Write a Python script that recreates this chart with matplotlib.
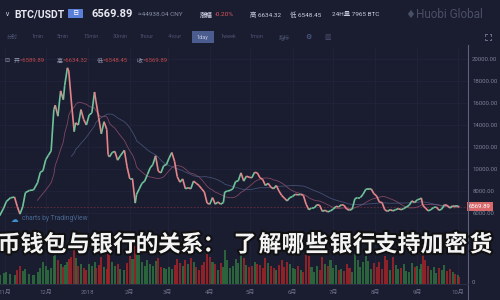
import matplotlib.pyplot as plt
import matplotlib.dates as mdates
import matplotlib.patheffects as pe
from matplotlib.collections import LineCollection
from matplotlib.patches import Rectangle
import numpy as np
import pandas as pd

plt.rcParams['font.family'] = ['Roboto', 'Noto Sans CJK SC', 'DejaVu Sans']

# BTC/USDT daily closes (sampled) and volume, Oct 2017 - Oct 2018
dates = [
    '2017-10-28', '2017-10-31', '2017-11-02', '2017-11-05', '2017-11-08', '2017-11-10', '2017-11-12',
    '2017-11-14', '2017-11-16', '2017-11-19', '2017-11-22', '2017-11-25', '2017-11-27', '2017-11-29',
    '2017-12-01', '2017-12-03', '2017-12-05', '2017-12-07', '2017-12-08', '2017-12-10', '2017-12-12',
    '2017-12-14', '2017-12-15', '2017-12-17', '2017-12-18', '2017-12-20', '2017-12-22', '2017-12-23',
    '2017-12-25', '2017-12-27', '2017-12-29', '2017-12-31',
    '2018-01-02', '2018-01-04', '2018-01-06', '2018-01-07', '2018-01-09', '2018-01-11', '2018-01-13',
    '2018-01-15', '2018-01-16', '2018-01-17', '2018-01-19', '2018-01-21', '2018-01-23', '2018-01-25',
    '2018-01-28', '2018-01-30',
    '2018-02-01', '2018-02-03', '2018-02-05', '2018-02-06', '2018-02-08', '2018-02-10', '2018-02-12',
    '2018-02-14', '2018-02-16', '2018-02-18', '2018-02-20', '2018-02-22', '2018-02-24', '2018-02-26',
    '2018-02-28',
    '2018-03-02', '2018-03-04', '2018-03-06', '2018-03-08', '2018-03-10', '2018-03-12', '2018-03-14',
    '2018-03-16', '2018-03-18', '2018-03-20', '2018-03-22', '2018-03-24', '2018-03-26', '2018-03-28',
    '2018-03-30',
    '2018-04-01', '2018-04-03', '2018-04-05', '2018-04-07', '2018-04-09', '2018-04-11', '2018-04-12',
    '2018-04-14', '2018-04-16', '2018-04-18', '2018-04-20', '2018-04-22', '2018-04-24', '2018-04-26',
    '2018-04-28', '2018-04-30',
    '2018-05-02', '2018-05-04', '2018-05-06', '2018-05-08', '2018-05-10', '2018-05-12', '2018-05-14',
    '2018-05-16', '2018-05-18', '2018-05-20', '2018-05-22', '2018-05-24', '2018-05-26', '2018-05-28',
    '2018-05-30',
    '2018-06-01', '2018-06-03', '2018-06-05', '2018-06-07', '2018-06-09', '2018-06-11', '2018-06-13',
    '2018-06-15', '2018-06-17', '2018-06-19', '2018-06-21', '2018-06-23', '2018-06-25', '2018-06-27',
    '2018-06-29',
    '2018-07-01', '2018-07-03', '2018-07-05', '2018-07-07', '2018-07-09', '2018-07-11', '2018-07-13',
    '2018-07-15', '2018-07-17', '2018-07-19', '2018-07-21', '2018-07-23', '2018-07-25', '2018-07-27',
    '2018-07-29', '2018-07-31',
    '2018-08-02', '2018-08-04', '2018-08-06', '2018-08-08', '2018-08-10', '2018-08-12', '2018-08-14',
    '2018-08-16', '2018-08-18', '2018-08-20', '2018-08-22', '2018-08-24', '2018-08-26', '2018-08-28',
    '2018-08-30',
    '2018-09-01', '2018-09-03', '2018-09-04', '2018-09-05', '2018-09-07', '2018-09-09', '2018-09-11',
    '2018-09-13', '2018-09-15', '2018-09-17', '2018-09-19', '2018-09-21', '2018-09-23', '2018-09-25',
    '2018-09-27', '2018-09-29', '2018-10-01', '2018-10-02',
]
closes = [
    5750, 6450, 7050, 7380, 7450, 6600, 5900, 6550, 7850, 8050, 8100, 8750, 9700, 9850,
    10850, 11250, 11650, 15400, 15800, 14800, 17100, 16300, 17600, 19200, 18900, 16000, 13400, 14200,
    14000, 15400, 14500, 14000,
    14900, 15100, 17000, 16200, 14700, 13200, 14300, 13600, 11300, 11100, 11500, 11600, 10800, 11200,
    11700, 10200,
    9100, 9100, 6900, 7700, 8200, 8700, 8900, 9500, 10100, 10400, 11200, 9800, 9650, 10300, 10400,
    11000, 11500, 10700, 9300, 8800, 9100, 8200, 8300, 8200, 8900, 8700, 8500, 8200, 7900, 6900,
    6800, 7400, 6800, 7000, 6800, 6950, 7900, 8000, 8050, 8200, 8850, 8930, 9650, 8900, 9350, 9250,
    9200, 9700, 9650, 9200, 9050, 8500, 8700, 8350, 8200, 8500, 8000, 7600, 7350, 7100, 7400,
    7500, 7700, 7650, 7700, 7600, 6800, 6300, 6450, 6450, 6750, 6700, 6150, 6250, 6100, 6200,
    6350, 6600, 6550, 6750, 6700, 6350, 6250, 6350, 7300, 7400, 7400, 7700, 8150, 8200, 8200, 7750,
    7550, 7000, 6950, 6300, 6150, 6300, 6200, 6300, 6400, 6300, 6400, 6550, 6700, 7100, 6950,
    7200, 7270, 7370, 6700, 6450, 6200, 6300, 6500, 6550, 6250, 6350, 6750, 6700, 6450, 6650, 6600,
    6600, 6569.89,
]
volumes = [
    9, 11, 12, 10, 9, 14, 18, 13, 15, 10, 9, 12, 16, 22,
    18, 14, 16, 28, 30, 24, 20, 17, 19, 22, 25, 27, 35, 26, 18, 20, 16, 14,
    20, 18, 22, 16, 19, 27, 17, 15, 30, 36, 22, 18, 20, 15, 14, 21,
    28, 25, 38, 40, 30, 22, 18, 24, 20, 18, 23, 26, 17, 16, 15,
    17, 15, 19, 25, 21, 18, 24, 20, 26, 22, 17, 14, 19, 22, 30,
    27, 22, 20, 14, 21, 17, 34, 24, 16, 18, 25, 21, 30, 26, 19, 17,
    18, 22, 20, 19, 16, 26, 21, 18, 16, 14, 19, 24, 17, 22, 20,
    16, 15, 18, 14, 12, 30, 28, 17, 12, 18, 14, 27, 20, 18, 24,
    16, 19, 14, 15, 13, 20, 16, 12, 30, 24, 17, 22, 28, 23, 15, 21,
    17, 22, 15, 28, 24, 14, 27, 19, 15, 16, 20, 13, 12, 21, 17,
    18, 15, 20, 32, 24, 18, 14, 17, 11, 16, 14, 19, 13, 15, 12, 10, 9, 7,
]

month_ticks = ['2017-11-01', '2017-12-01', '2018-01-01', '2018-02-01', '2018-03-01', '2018-04-01',
               '2018-05-01', '2018-06-01', '2018-07-01', '2018-08-01', '2018-09-01', '2018-10-01']
month_labels = ['11月', '12月', '2018', '2月', '3月', '4月', '5月', '6月', '7月', '8月', '9月', '10月']
price_ticks = [6000, 8000, 10000, 12000, 14000, 16000, 18000, 20000]

title = '币钱包与银行的关系：了解哪些银行支持加密货'
title_x = [9, 32, 55, 78.5, 101.5, 124.5, 147, 169.5, 192, 214, 245, 270, 293, 317, 341, 364,
           386, 409, 432, 456, 481]

BG = '#1a1d30'
UP = '#6fc39a'
DOWN = '#e5858a'

x = mdates.date2num(pd.to_datetime(dates))
c = np.array(closes, dtype=float)
rising = np.r_[True, c[1:] >= c[:-1]]

fig = plt.figure(figsize=(5, 3), dpi=100, facecolor=BG)

# price panel, pixel rows 47..284, right axis at x=468
ax = fig.add_axes([0, 16 / 300, 468 / 500, 237 / 300], facecolor=BG)
x0 = mdates.date2num(pd.Timestamp('2017-10-28 07:00'))
ax.set_xlim(x0, x0 + 345.1)
ax.set_ylim(-454, 21090)
for s in ax.spines.values():
    s.set_visible(False)

for t in mdates.date2num(pd.to_datetime(month_ticks)):
    ax.axvline(t, color='#21243a', lw=0.6, zorder=0)
for p in price_ticks:
    ax.axhline(p, color='#21243a', lw=0.6, zorder=0)

pts = np.column_stack([x, c])
segs = np.stack([pts[:-1], pts[1:]], axis=1)
seg_colors = [UP if r else DOWN for r in rising[1:]]
ax.add_collection(LineCollection(segs, colors=seg_colors, linewidths=1.2, zorder=3))

ma_fast = pd.Series(c).rolling(12).mean()
ma_slow = pd.Series(c).rolling(26).mean()
ax.plot(x, ma_fast, color='#a8587a', lw=0.6, alpha=0.7, zorder=2)
ax.plot(x, ma_slow, color='#56648f', lw=0.6, alpha=0.7, zorder=2)

ax.axhline(c[-1], color='#6a2c3c', lw=0.6, ls=(0, (2, 2)), zorder=1)

ax.yaxis.tick_right()
ax.set_yticks(price_ticks, [f'{p:.2f}' for p in price_ticks])
ax.tick_params(axis='y', length=0, pad=3, labelsize=4.3, labelcolor='#7d8299')
ax.set_xticks(mdates.date2num(pd.to_datetime(month_ticks)), month_labels)
ax.tick_params(axis='x', length=0, pad=4, labelsize=4.3, labelcolor='#6f748e')

ax.text(1 + 1 / 468, c[-1], f'{c[-1]:.2f}', transform=ax.get_yaxis_transform(),
        ha='left', va='center', fontsize=4.3, color='white', clip_on=False, zorder=6,
        bbox=dict(boxstyle='square,pad=0.35', fc='#d9686c', ec='none'))

# volume panel
axv = fig.add_axes([0, 16 / 300, 468 / 500, 60 / 300], facecolor='none')
axv.set_xlim(ax.get_xlim())
axv.set_ylim(0, 60)
axv.bar(x, volumes, width=1.5, color=['#2f7040' if r else '#a32428' for r in rising],
        alpha=0.85, linewidth=0)
axv.axis('off')

# header, toolbar and overlay text in pixel coordinates
ov = fig.add_axes([0, 0, 1, 1], facecolor='none')
ov.set_xlim(0, 500)
ov.set_ylim(300, 0)
ov.axis('off')

ov.plot([468, 468], [45, 300], color='#5d6279', lw=0.8)
ov.plot([0, 468], [284, 284], color='#2e3248', lw=0.6)
ov.text(472, 283, '0', fontsize=4.3, color='#7d8299', va='center')

ov.text(4, 14, '∨', fontsize=5, color='#c8ccdc', va='center', family='DejaVu Sans')
ov.text(14, 14, 'BTC/USDT', fontsize=7.5, weight='bold', color='#e8eaf2', va='center')
ov.add_patch(Rectangle((68, 9), 15, 9, fc='#5a7fd8', ec='none'))
ov.text(75.5, 13.5, '日', fontsize=4.5, color='white', ha='center', va='center')
ov.text(92, 14, '6569.89', fontsize=8, weight='bold', color='#e8eaf2', va='center')
ov.text(138, 15, '≈44938.04 CNY', fontsize=4.6, color='#8a8fa8', va='center')
ov.text(200, 15, '涨幅', fontsize=4.6, color='#c8ccdc', va='center', weight='bold')
ov.text(215, 15, '-0.20%', fontsize=4.6, color='#d9565c', va='center')
ov.text(250, 15, '高 6634.32', fontsize=4.6, color='#c8ccdc', va='center')
ov.text(290, 15, '低 6548.45', fontsize=4.6, color='#c8ccdc', va='center')
ov.text(332, 15, '24H量 7965 BTC', fontsize=4.6, color='#c8ccdc', va='center')
ov.text(410, 15, '♦', fontsize=8, color='#4a4f68', ha='center', va='center', family='DejaVu Sans')
ov.text(416, 15, 'Huobi Global', fontsize=8.5, color='#4a4f68', va='center')

tabs = ['分时', '1min', '5min', '15min', '30min', '1hour', '4hour', '1day', '1week', '1mon', '指标']
tab_x = [12.5, 38, 63, 91, 120, 147, 175, 202, 228, 256, 284]
ov.add_patch(Rectangle((192, 31), 22, 12, fc='#4b5d8e', ec='none'))
for lbl, tx in zip(tabs, tab_x):
    ov.text(tx, 37, lbl, fontsize=4, ha='center', va='center',
            color='#c0c6de' if lbl == '1day' else '#4d5371')
ov.text(308, 37, '⚙', fontsize=5, ha='center', va='center', color='#5a6aa0', family='DejaVu Sans')
ov.text(328, 37, '▥', fontsize=5, ha='center', va='center', color='#4d5371', family='DejaVu Sans')

# fullscreen icon: four corner brackets
for sx, sy in [(-1, -1), (1, -1), (-1, 1), (1, 1)]:
    cx, cy = 488 + 3 * sx, 37 + 3 * sy
    ov.plot([cx - 1.5 * sx, cx, cx], [cy, cy, cy - 1.5 * sy], color='#6a7090', lw=0.7)

ov.text(4, 61, '⊟', fontsize=4.3, color='#8a8fa8', va='center', family='DejaVu Sans')
legend = [('开', 14, '6589.89'), ('高', 57, '6634.32'), ('低', 97, '6548.45'), ('收', 137, '6569.89')]
for k, lx, v in legend:
    ov.text(lx, 61, k, fontsize=4.3, color='#9a9fb6', va='center')
    ov.text(lx + 6, 61, '=' + v, fontsize=4.3, color='#c0474c', va='center')

ov.text(14, 219, '☁', fontsize=5.5, color='#3d8fd1', ha='center', va='center', family='DejaVu Sans')
ov.text(22, 219, 'charts by TradingView', fontsize=4.8, color='#4a6892', va='center')

for ch, tx in zip(title, title_x):
    ov.text(tx, 245, ch, fontsize=16.5, weight='bold', color='#f4f4f4', ha='center', va='center',
            family=['Noto Sans CJK SC'], zorder=10,
            path_effects=[pe.withStroke(linewidth=3, foreground='#111111')])

fig.savefig('out.png', dpi=100, facecolor=BG)
